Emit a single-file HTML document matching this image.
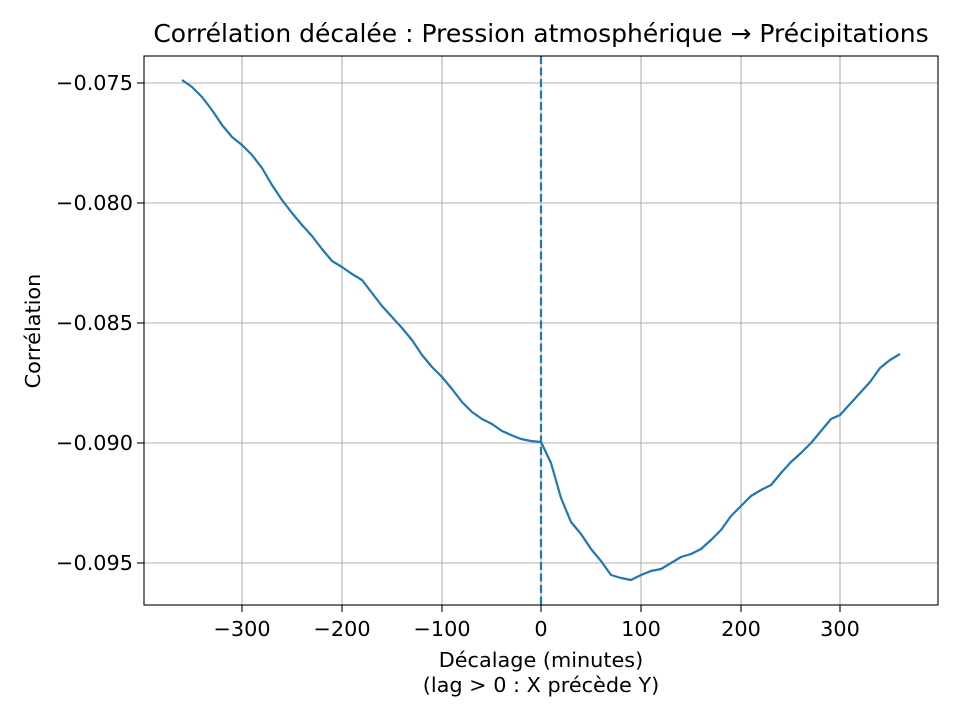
<!DOCTYPE html>
<html><head><meta charset="utf-8"><style>body{margin:0;background:#fff}svg{display:block}text{font-family:"DejaVu Sans","Liberation Sans",sans-serif;fill:#000}</style></head>
<body>
<svg width="960" height="720" xmlns="http://www.w3.org/2000/svg">
<g stroke="#b0b0b0" stroke-width="1.1">
<line x1="242" y1="56" x2="242" y2="605"/><line x1="342" y1="56" x2="342" y2="605"/><line x1="442" y1="56" x2="442" y2="605"/><line x1="541" y1="56" x2="541" y2="605"/><line x1="641" y1="56" x2="641" y2="605"/><line x1="741" y1="56" x2="741" y2="605"/><line x1="840" y1="56" x2="840" y2="605"/>
<line x1="144" y1="83" x2="938" y2="83"/><line x1="144" y1="203" x2="938" y2="203"/><line x1="144" y1="323" x2="938" y2="323"/><line x1="144" y1="443" x2="938" y2="443"/><line x1="144" y1="563" x2="938" y2="563"/>
</g>
<line x1="541" y1="56" x2="541" y2="605" stroke="#1f77b4" stroke-width="2.2" stroke-dasharray="8,3.5"/>
<polyline fill="none" stroke="#1f77b4" stroke-width="2.2" stroke-linejoin="round" points="182,80 192,87 202,97 212,110 222,125 232,137 242,145 252,155 262,168 272,185 282,200 292,213 302,225 312,236 322,249 332,261 342,267 352,274 362,280 372,293 382,306 392,317 402,328 412,340 422,355 432,367 442,377 452,389 462,402 472,412 482,419 492,424 502,431 511,435 521,439 531,441 541,442 551,463 561,498 571,522 581,534 591,549 601,561 611,575 621,578 631,580 641,575 651,571 661,569 671,563 681,557 691,554 701,549 711,540 721,530 731,516 741,506 751,496 761,490 771,485 781,473 791,462 801,453 811,443 821,431 831,419 840,415 850,404 860,393 870,382 880,368 890,360 900,354"/>
<rect x="144" y="56" width="794" height="549" fill="none" stroke="#000" stroke-width="1.1"/>
<g stroke="#000" stroke-width="1.1">
<line x1="242" y1="605" x2="242" y2="612"/><line x1="342" y1="605" x2="342" y2="612"/><line x1="442" y1="605" x2="442" y2="612"/><line x1="541" y1="605" x2="541" y2="612"/><line x1="641" y1="605" x2="641" y2="612"/><line x1="741" y1="605" x2="741" y2="612"/><line x1="840" y1="605" x2="840" y2="612"/>
<line x1="137" y1="83" x2="144" y2="83"/><line x1="137" y1="203" x2="144" y2="203"/><line x1="137" y1="323" x2="144" y2="323"/><line x1="137" y1="443" x2="144" y2="443"/><line x1="137" y1="563" x2="144" y2="563"/>
</g>
<g font-size="20.8" text-anchor="middle">
<text x="242" y="636">−300</text><text x="342" y="636">−200</text><text x="442" y="636">−100</text><text x="541" y="636">0</text><text x="641" y="636">100</text><text x="741" y="636">200</text><text x="840" y="636">300</text>
</g>
<g font-size="20.8" text-anchor="end">
<text x="133" y="90">−0.075</text><text x="133" y="210">−0.080</text><text x="133" y="330">−0.085</text><text x="133" y="450">−0.090</text><text x="133" y="570">−0.095</text>
</g>
<text x="541" y="667" font-size="20.8" text-anchor="middle">Décalage (minutes)</text>
<text x="541" y="692" font-size="20.8" text-anchor="middle">(lag &gt; 0 : X précède Y)</text>
<text transform="translate(40,331) rotate(-90)" font-size="20.8" text-anchor="middle">Corrélation</text>
<text x="541" y="42" font-size="25" text-anchor="middle">Corrélation décalée : Pression atmosphérique → Précipitations</text>
</svg>
</body></html>
